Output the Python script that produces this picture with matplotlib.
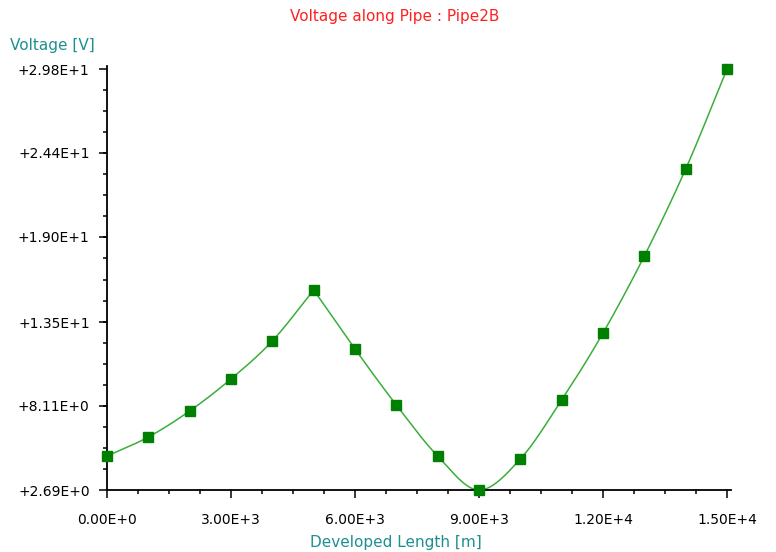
import numpy as np
from matplotlib import pyplot as plt
from matplotlib.ticker import MultipleLocator, FixedLocator

# data
length_m = [0, 1000, 2000, 3000, 4000, 5000, 6000, 7000, 8000,
            9000, 10000, 11000, 12000, 13000, 14000, 15000]
voltage_v = [4.88, 6.10, 7.78, 9.84, 12.29, 15.57, 11.77, 8.16, 4.88,
             2.69, 4.69, 8.49, 12.80, 17.76, 23.36, 29.8]
y_ticks = [2.69, 8.11, 13.5, 19.0, 24.4, 29.8]
y_labels = ['+2.69E+0', '+8.11E+0', '+1.35E+1', '+1.90E+1', '+2.44E+1', '+2.98E+1']
x_ticks = [0, 3000, 6000, 9000, 12000, 15000]
x_labels = ['0.00E+0', '3.00E+3', '6.00E+3', '9.00E+3', '1.20E+4', '1.50E+4']


def smooth(x, y, n=20):
    # cubic curve through the points: kink at a peak, flat at a trough
    x = np.asarray(x, float)
    y = np.asarray(y, float)
    d = np.diff(y)  # per segment, equal spacing
    t = np.linspace(0, 1, n, endpoint=False)
    h00 = 2 * t ** 3 - 3 * t ** 2 + 1
    h10 = t ** 3 - 2 * t ** 2 + t
    h01 = -2 * t ** 3 + 3 * t ** 2
    h11 = t ** 3 - t ** 2

    def tangent(i, seg):
        if i == 0 or i == len(y) - 1:
            return d[seg]
        if d[i - 1] > 0 and d[i] < 0:
            return d[seg]
        if d[i - 1] < 0 and d[i] > 0:
            return 0.0
        return 0.5 * (d[i - 1] + d[i])

    xs, ys = [], []
    for i in range(len(x) - 1):
        m0, m1 = tangent(i, i), tangent(i + 1, i)
        xs.extend(x[i] + (x[i + 1] - x[i]) * t)
        ys.extend(h00 * y[i] + h10 * m0 + h01 * y[i + 1] + h11 * m1)
    xs.append(x[-1])
    ys.append(y[-1])
    return np.array(xs), np.array(ys)


plt.rcParams['font.family'] = ['DejaVu Sans']
fig = plt.figure(figsize=(7.76, 5.52), dpi=100)
ax = fig.add_axes([0.1379, 0.1123, 0.8043, 0.7683])

sx, sy = smooth(length_m, voltage_v)
ax.plot(sx, sy, color='#3aae3a', lw=1.1, zorder=2)
ax.plot(length_m, voltage_v, ls='none', marker='s', ms=6.5,
        color='#008000', zorder=3, clip_on=False)

ax.set_xlim(0, 15100)
ax.set_ylim(2.69, 30.0)
ax.xaxis.set_major_locator(FixedLocator(x_ticks))
ax.set_xticklabels(x_labels)
ax.xaxis.set_minor_locator(MultipleLocator(750))
ax.yaxis.set_major_locator(FixedLocator(y_ticks))
ax.set_yticklabels(y_labels)
ax.yaxis.set_minor_locator(FixedLocator(
    [y_ticks[0] + i * (y_ticks[-1] - y_ticks[0]) / 20 for i in range(21)]))

for s in ['top', 'right']:
    ax.spines[s].set_visible(False)
for s in ['left', 'bottom']:
    ax.spines[s].set_linewidth(1.3)

ax.tick_params(which='major', length=5.5, width=1.1, labelsize=10)
ax.tick_params(which='minor', length=3, width=1.1)
ax.tick_params(axis='y', which='major', pad=7)
ax.tick_params(axis='x', which='major', pad=11)

fig.text(0.509, 0.971, 'Voltage along Pipe : Pipe2B', color='#ff2020',
         fontsize=11, ha='center', va='center')
fig.text(0.013, 0.918, 'Voltage [V]', color='#1e9090',
         fontsize=11, ha='left', va='center')
fig.text(0.510, 0.018, 'Developed Length [m]', color='#1e9090',
         fontsize=11, ha='center', va='center')

fig.savefig('out.png')
